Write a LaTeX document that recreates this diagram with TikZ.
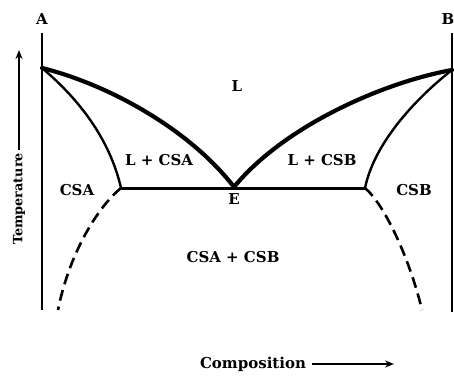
\documentclass[tikz,border=0pt]{standalone}
\usepackage{fontspec}
\setmainfont{DejaVu Serif}
\usetikzlibrary{arrows.meta}
\tikzset{
  lbl/.style={font=\fontsize{15}{17}\selectfont\bfseries, inner sep=0pt},
  axis/.style={line width=2pt},
  liq/.style={line width=4.2pt},
  sol/.style={line width=2.4pt},
  dsh/.style={line width=2.6pt, dash pattern=on 11pt off 6pt},
  arr/.style={line width=1.8pt, -{Stealth[length=9pt,width=7pt]}}
}
\begin{document}
\begin{tikzpicture}[x=1pt,y=-1pt]
\useasboundingbox (0,0) rectangle (454,375);
% key points
\coordinate (Atop) at (42,33);
\coordinate (Abot) at (42,310);
\coordinate (Btop) at (452,33);
\coordinate (Bbot) at (452,312);
\coordinate (TA) at (42,68);
\coordinate (TB) at (452,70);
\coordinate (E) at (234,187);
\coordinate (SA) at (121,188);
\coordinate (SB) at (365,188);
\coordinate (DA) at (58,310);
\coordinate (DB) at (422,310);
% axes
\draw[axis] (Atop) -- (Abot);
\draw[line width=1.3pt] (Btop) -- (Bbot);
\node[lbl] (lA) at (42,19) {A};
\node[lbl, anchor=east] (lB) at (454.5,19) {B};
% liquidus
\draw[liq, line cap=round] (TA) .. controls (110,85) and (190,130) .. (E);
\draw[liq, line cap=round] (TB) .. controls (385,82) and (285,125) .. (E);
% solidus
\draw[sol] (TA) .. controls (80,100) and (110,140) .. (SA);
\draw[sol] (TB) .. controls (420,95) and (375,140) .. (SB);
% eutectic line
\draw[line width=3pt] (SA) -- (SB);
% solvus (dashed)
\draw[dsh] (SA) .. controls (100,205) and (70,250) .. (DA);
\draw[dsh] (SB) .. controls (385,205) and (410,260) .. (DB);
% labels
\node[lbl] (L) at (237,86) {L};
\node[lbl] (LA) at (159,160) {L + CSA};
\node[lbl] (LB) at (322,160) {L + CSB};
\node[lbl] (CA) at (77,190) {CSA};
\node[lbl] (CB) at (414,190) {CSB};
\node[lbl] (lE) at (234,199) {E};
\node[lbl] (AB) at (233,257) {CSA + CSB};
% axis titles
\node[lbl, font=\fontsize{12.8}{15}\selectfont\bfseries, rotate=90] (temp) at (19,199) {Temperature};
\coordinate (tt) at (19,50);
\draw[arr] (temp.east) ++(0,-3) -- (tt);
\node[lbl] (comp) at (253,364) {Composition};
\coordinate (ct) at (394,364);
\draw[arr] (comp.east) ++(6,0) -- (ct);
\end{tikzpicture}
\end{document}
